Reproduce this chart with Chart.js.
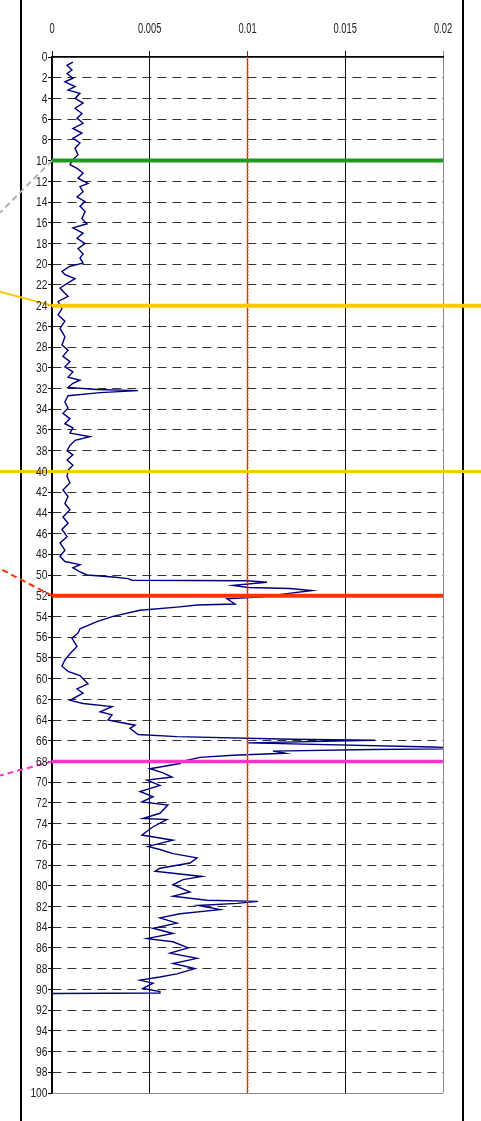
<!DOCTYPE html>
<html>
<head>
<meta charset="utf-8">
<script src="https://cdn.jsdelivr.net/npm/chart.js"></script>
<style>
  body { margin: 0; background: #fff; }
  canvas { display: block; }
</style>
</head>
<body>
<canvas id="perfil" width="481" height="1121"></canvas>
<script>
// profundidad (eje vertical) y valor medido (eje horizontal)
const profundidad = [
  0.5, 0.8, 1.25, 1.6, 2.05, 2.4, 2.85, 3.2, 3.5, 4.0,
  4.45, 4.95, 5.45, 5.9, 6.4, 6.9, 7.35, 7.85, 8.3, 8.8,
  9.45, 9.9, 10.4, 10.75, 11.2, 11.7, 12.2, 12.5, 13.0, 13.5,
  13.95, 14.4, 14.9, 15.6, 16.1, 16.5, 17.0, 17.5, 18.0, 18.5,
  19.0, 19.4, 19.9, 20.2, 20.7, 21.0, 21.4, 21.8, 22.3, 22.8,
  23.1, 23.6, 24.3, 24.9, 25.5, 26.2, 27.0, 27.8, 28.3, 28.9,
  29.4, 29.9, 30.4, 30.9, 31.2, 31.5, 31.9, 32.1, 32.2, 32.4,
  32.7, 33.3, 33.9, 34.4, 34.9, 35.4, 35.8, 36.3, 36.65, 37.0,
  37.5, 38.0, 38.4, 38.9, 39.4, 39.9, 40.5, 41.1, 41.8, 42.4,
  43.1, 43.7, 44.4, 45.0, 45.6, 46.3, 46.9, 47.6, 48.2, 48.7,
  49.0, 49.3, 49.7, 50.0, 50.2, 50.35, 50.5, 50.55, 50.7, 51.0,
  51.2, 51.3, 51.5, 51.8, 52.1, 52.3, 52.8, 52.9, 53.1, 53.4,
  54.0, 54.5, 55.2, 55.6, 56.1, 56.9, 57.6, 58.2, 58.8, 59.3,
  59.7, 60.5, 61.0, 61.4, 62.1, 62.4, 62.7, 63.2, 63.5, 64.0,
  64.5, 64.8, 65.4, 65.6, 65.85, 65.95, 66.2, 66.6, 66.75, 66.85,
  67.0, 67.2, 67.4, 67.6, 68.0, 68.2, 68.7, 69.1, 69.5, 69.8,
  70.3, 70.9, 71.4, 71.9, 72.2, 73.0, 73.5, 73.6, 74.3, 75.1,
  75.6, 76.2, 76.5, 76.9, 77.3, 77.8, 78.3, 78.6, 79.1, 79.4,
  79.9, 80.6, 81.0, 81.4, 81.5, 81.7, 81.9, 82.3, 82.7, 83.1,
  83.6, 84.1, 84.6, 85.1, 85.4, 86.0, 86.5, 87.0, 87.5, 88.0,
  88.5, 88.8, 89.1, 89.4, 89.9, 90.2, 90.35, 90.4
];
const valores = [
  0.00107, 0.00077, 0.00102, 0.00077, 0.00107, 0.00066, 0.00118, 0.00082, 0.00143, 0.00118,
  0.00159, 0.00118, 0.00153, 0.00128, 0.00159, 0.00107, 0.00153, 0.00107, 0.00143, 0.00118,
  0.00133, 0.00107, 0.00092, 0.00128, 0.00159, 0.00133, 0.00184, 0.00143, 0.00159, 0.00128,
  0.00169, 0.00143, 0.00169, 0.00153, 0.00179, 0.00107, 0.00159, 0.00128, 0.00169, 0.00133,
  0.00159, 0.00143, 0.00159, 0.00092, 0.00051, 0.00066, 0.00118, 0.00082, 0.00041, 0.00066,
  0.00082, 0.00031, 0.00051, 0.00031, 0.00066, 0.00041, 0.00066, 0.00051, 0.00082, 0.00056,
  0.00092, 0.00066, 0.00107, 0.00082, 0.00143, 0.00107, 0.00082, 0.0023, 0.0044, 0.00246,
  0.00082, 0.00066, 0.00082, 0.00056, 0.00092, 0.00066, 0.00107, 0.00092, 0.00194, 0.00118,
  0.00092, 0.00077, 0.00107, 0.00077, 0.00107, 0.00082, 0.00077, 0.00092, 0.00056, 0.00082,
  0.00066, 0.00092, 0.00056, 0.00082, 0.00051, 0.00077, 0.00041, 0.00066, 0.00041, 0.00066,
  0.00143, 0.00107, 0.00143, 0.00179, 0.00312, 0.00389, 0.00409, 0.00997, 0.011, 0.00926,
  0.01003, 0.01217, 0.0133, 0.01202, 0.01079, 0.00895, 0.00936, 0.00742, 0.00639, 0.0045,
  0.00312, 0.0023, 0.00143, 0.00133, 0.00102, 0.00128, 0.00092, 0.00066, 0.00051, 0.00082,
  0.00143, 0.00184, 0.00128, 0.00159, 0.00092, 0.00159, 0.00307, 0.00246, 0.00307, 0.00286,
  0.00425, 0.00399, 0.0044, 0.00639, 0.01228, 0.01652, 0.01003, 0.01944, 0.0215, 0.01642,
  0.0113, 0.01192, 0.00926, 0.00757, 0.00665, 0.00655, 0.00501, 0.00568, 0.00614, 0.00486,
  0.00552, 0.0045, 0.00517, 0.0046, 0.00593, 0.00552, 0.00465, 0.00588, 0.00517, 0.0046,
  0.00619, 0.00491, 0.00552, 0.00619, 0.00742, 0.00706, 0.00552, 0.00527, 0.00767, 0.0067,
  0.00619, 0.00706, 0.00619, 0.00793, 0.01054, 0.00946, 0.00747, 0.00859, 0.00655, 0.00552,
  0.00639, 0.00517, 0.00619, 0.00486, 0.00619, 0.00696, 0.00604, 0.00742, 0.00619, 0.00731,
  0.00639, 0.00552, 0.0045, 0.00517, 0.00465, 0.00552, 0.00552, 0
];

// limite vertical punteado
const limite = 0.01;

// etiquetas de los ejes
const xTicks = [0, 0.005, 0.01, 0.015, 0.02];
const xEtiquetas = ["0", "0.005", "0.01", "0.015", "0.02"];
const yTicks = [];
const yEtiquetas = [];
for (let p = 0; p <= 100; p += 2) {
  yTicks.push(p);
  yEtiquetas.push(String(p));
}

// profundidades marcadas con lineas de color
const marcas = [10, 24, 40, 52, 68];
const marcasColor = ["#1e9a1e", "#ffc800", "#ffc800", "#ff3300", "#ff33cc"];

(function () {
  const ctx = document.getElementById("perfil");
  const familia = "'Liberation Sans', Arial, sans-serif";

  const puntos = profundidad.map((p, i) => ({ x: valores[i], y: p }));

  // marco negro a los lados
  const marco = {
    id: "marco",
    beforeDraw(chart) {
      const c = chart.ctx;
      const a = chart.chartArea;
      c.save();
      c.strokeStyle = "#000";
      c.lineWidth = 2;
      c.beginPath();
      c.moveTo(a.left - 31, 0);
      c.lineTo(a.left - 31, chart.height);
      c.moveTo(a.right + 20, 0);
      c.lineTo(a.right + 20, chart.height);
      c.stroke();
      c.restore();
    },
  };

  // etiquetas estrechas (letra condensada como en el original)
  const etiquetas = {
    id: "etiquetas",
    afterDraw(chart) {
      const c = chart.ctx;
      const a = chart.chartArea;
      const xs = chart.scales.x;
      const ys = chart.scales.y;
      c.save();
      c.fillStyle = "#222";
      c.textBaseline = "middle";

      c.font = "15px " + familia;
      c.textAlign = "center";
      xTicks.forEach((v, i) => {
        c.save();
        c.translate(xs.getPixelForValue(v), a.top - 28);
        c.scale(0.62, 1);
        c.fillText(xEtiquetas[i], 0, 0);
        c.restore();
      });

      c.font = "13.5px " + familia;
      c.textAlign = "right";
      yTicks.forEach((v, i) => {
        c.save();
        c.translate(a.left - 4.5, ys.getPixelForValue(v) + 0.5);
        c.scale(0.76, 1);
        c.fillText(yEtiquetas[i], 0, 0);
        c.restore();
      });
      c.restore();
    },
  };

  // lineas horizontales de color y sus guias a la izquierda
  const lineasMarca = {
    id: "lineasMarca",
    afterDatasetsDraw(chart) {
      const c = chart.ctx;
      const a = chart.chartArea;
      const ys = chart.scales.y;
      c.save();
      marcas.forEach((m, i) => {
        const y = ys.getPixelForValue(m);
        let x0 = a.left;
        let x1 = a.right;
        let ancho = 4;
        if (m === 24) x1 = chart.width;
        if (m === 40) { x0 = 0; x1 = chart.width; ancho = 3; }
        if (m === 68) ancho = 3.5;

        // guia
        c.setLineDash(m === 24 || m === 40 ? [] : [6, 4]);
        c.lineWidth = 2;
        c.strokeStyle = m === 10 ? "#b0b0b0" : marcasColor[i];
        c.beginPath();
        if (m === 10) { c.moveTo(a.left, y); c.lineTo(0, y + 52); }
        if (m === 24) { c.moveTo(a.left, y); c.lineTo(0, y - 14); }
        if (m === 52) { c.moveTo(a.left, y); c.lineTo(0, y - 27); }
        if (m === 68) { c.moveTo(a.left, y); c.lineTo(0, y + 14); }
        c.stroke();

        c.setLineDash([]);
        c.lineWidth = ancho;
        c.strokeStyle = marcasColor[i];
        c.beginPath();
        c.moveTo(x0, y);
        c.lineTo(x1, y);
        c.stroke();
      });
      c.restore();
    },
  };

  new Chart(ctx, {
    type: "scatter",
    data: {
      datasets: [
        {
          label: "limite",
          data: [{ x: limite, y: 0 }, { x: limite, y: 100 }],
          showLine: true,
          borderColor: "#ff5010",
          borderWidth: 2,
          borderDash: [2, 1.5],
          pointRadius: 0,
        },
        {
          label: "perfil",
          data: puntos,
          showLine: true,
          borderColor: "#000080",
          borderWidth: 1.4,
          pointRadius: 0,
          tension: 0,
        },
      ],
    },
    options: {
      responsive: false,
      animation: false,
      layout: { padding: { left: 0, right: 38, top: 0, bottom: 28 } },
      plugins: { legend: { display: false }, tooltip: { enabled: false } },
      scales: {
        x: {
          type: "linear",
          position: "top",
          min: 0,
          max: 0.02,
          afterFit: (s) => { s.height = 57; },
          afterBuildTicks: (s) => { s.ticks = xTicks.map((v) => ({ value: v })); },
          ticks: { display: false },
          grid: {
            color: (c) => {
              const v = c.tick ? c.tick.value : 0;
              if (v === 0.02) return "#8a8a8a";
              if (v === 0.01) return "#a02000";
              return "#111";
            },
            lineWidth: 1,
            tickLength: 6,
          },
          border: { color: "#000", width: 1.8 },
        },
        y: {
          type: "linear",
          reverse: true,
          min: 0,
          max: 100,
          afterFit: (s) => { s.width = 52; },
          afterBuildTicks: (s) => { s.ticks = yTicks.map((v) => ({ value: v })); },
          ticks: { display: false },
          grid: {
            color: (c) => {
              const v = c.tick ? c.tick.value : 0;
              if (v === 0) return "rgba(0,0,0,0)";
              if (v === 100) return "#8a8a8a";
              return "#333";
            },
            tickColor: "#000",
            lineWidth: 1,
            tickLength: 4,
          },
          border: {
            color: "#000",
            width: 1.4,
            dash: (c) => (c.tick && c.tick.value > 0 && c.tick.value < 100 ? [9, 6] : []),
          },
        },
      },
    },
    plugins: [marco, etiquetas, lineasMarca],
  });
})();
</script>
</body>
</html>
